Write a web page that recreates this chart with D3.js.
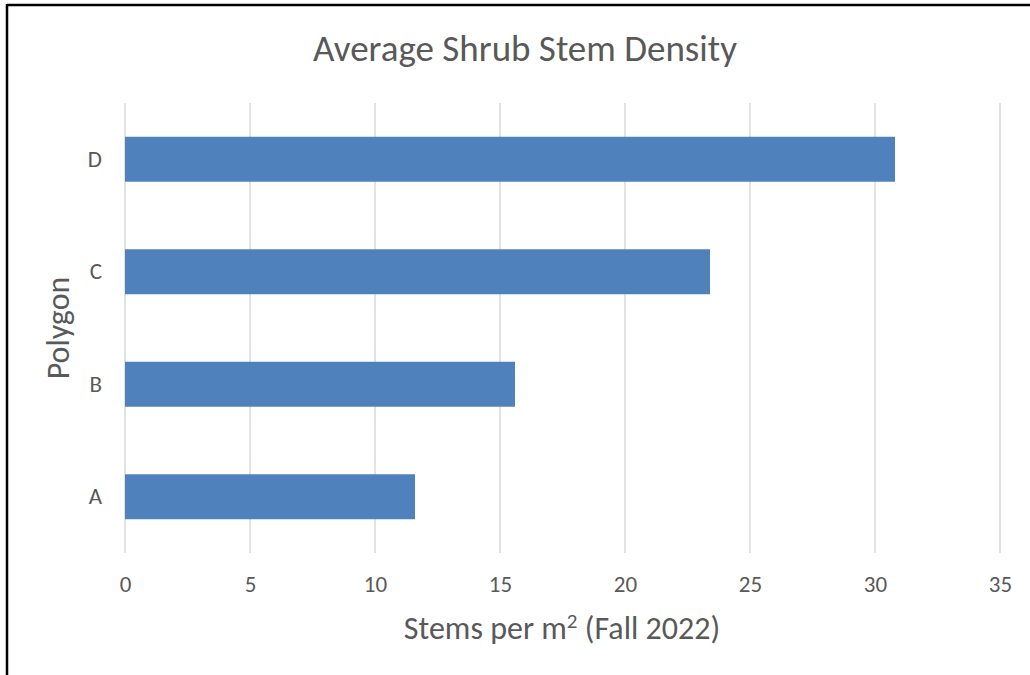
<!DOCTYPE html>
<html><head><meta charset="utf-8">
<script src="https://cdn.jsdelivr.net/npm/d3@7"></script>
<style>body{margin:0;background:#fff}svg{display:block}</style>
</head><body>
<script>
const categories = ["A","B","C","D"];
const values = [11.6, 15.6, 23.4, 30.8];
const xTicks = [0,5,10,15,20,25,30,35];
const titleText = "Average Shrub Stem Density";
const yTitle = "Polygon";

const W = 1030, H = 675;
const font = "Carlito, Lato, sans-serif";
const svg = d3.select("body").append("svg").attr("width", W).attr("height", H);
svg.append("rect").attr("width", W).attr("height", H).attr("fill", "#fff");
svg.append("line").attr("x1",7).attr("x2",W).attr("y1",5).attr("y2",5).attr("stroke","#000").attr("stroke-width",2.5);
svg.append("line").attr("x1",7).attr("x2",7).attr("y1",4).attr("y2",H).attr("stroke","#000").attr("stroke-width",2.5);

const plot = {left:125, right:1000, top:103, bottom:553};
const x = d3.scaleLinear().domain([0,35]).range([plot.left, plot.right]);
const y = d3.scaleBand().domain(categories.slice().reverse()).range([plot.top, plot.bottom]).paddingInner(0.6).paddingOuter(0.3);

const g = svg.append("g");
g.selectAll("line.grid").data(xTicks).join("line").attr("class","grid")
  .attr("x1", d=>x(d)).attr("x2", d=>x(d)).attr("y1", plot.top).attr("y2", plot.bottom)
  .attr("stroke", "#d9d9d9").attr("stroke-width", 1.5);

g.selectAll("rect.bar").data(categories).join("rect").attr("class","bar")
  .attr("x", x(0)).attr("y", d=>y(d)).attr("height", y.bandwidth())
  .attr("width", (d,i)=>x(values[i]) - x(0)).attr("fill", "#4f81bd");

const xa = svg.append("g").attr("transform", `translate(0,${plot.bottom})`)
  .call(d3.axisBottom(x).tickValues(xTicks).tickSize(0).tickPadding(23));
xa.select(".domain").remove();
xa.selectAll("text").attr("font-family", font).attr("font-size", 23).attr("fill", "#595959");

const ya = svg.append("g").attr("transform", `translate(${plot.left},0)`)
  .call(d3.axisLeft(y).tickSize(0).tickPadding(23));
ya.select(".domain").remove();
ya.selectAll("text").attr("font-family", font).attr("font-size", 23).attr("fill", "#595959");

svg.append("text").attr("x", 525).attr("y", 61).attr("text-anchor","middle")
  .attr("font-family", font).attr("font-size", 37).attr("fill", "#595959").text(titleText);

const xt = svg.append("text").attr("x", 562).attr("y", 639).attr("text-anchor","middle")
  .attr("font-family", font).attr("font-size", 32).attr("fill", "#595959");
xt.append("tspan").text("Stems per m");
xt.append("tspan").attr("dy", -11).attr("font-size", 21).text("2");
xt.append("tspan").attr("dy", 11).text(" (Fall 2022)");

svg.append("text").attr("transform", "translate(69,328) rotate(-90)").attr("text-anchor","middle")
  .attr("font-family", font).attr("font-size", 32).attr("fill", "#595959").text(yTitle);
</script>
</body></html>
